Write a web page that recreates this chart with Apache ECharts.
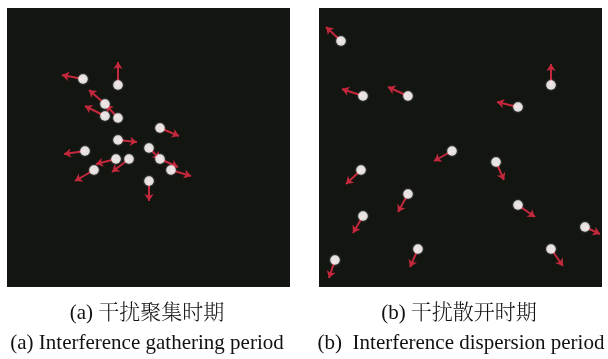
<!DOCTYPE html>
<html>
<head>
<meta charset="utf-8">
<script src="https://cdn.jsdelivr.net/npm/echarts@6/dist/echarts.min.js"></script>
<style>
html,body{margin:0;padding:0;background:#fff;}
#chart{width:608px;height:359px;}
</style>
</head>
<body>
<div id="chart"></div>
<script>
// Panel (a): interference gathering period — point positions and arrow tips (panel units)
const gatherX   = [76, 111, 98, 98, 111, 153, 111, 78, 142, 153, 164, 109, 122, 87, 142];
const gatherY   = [71, 77, 96, 108, 110, 120, 132, 143, 140, 151, 162, 151, 151, 162, 173];
const gatherTipX = [55, 111, 82, 78, 99, 172, 130, 57, 153, 171, 184, 89, 105, 68, 142];
const gatherTipY = [67, 54, 82, 98, 97, 128, 134, 146, 151, 159, 168, 156, 164, 173, 193];

// Panel (b): interference dispersion period
const disperseX   = [22, 232, 44, 89, 199, 133, 177, 42, 89, 199, 44, 266, 99, 232, 16];
const disperseY   = [33, 77, 88, 88, 99, 143, 154, 162, 186, 197, 208, 219, 241, 241, 252];
const disperseTipX = [7, 232, 23, 69, 178, 115, 185, 27, 79, 216, 34, 281, 91, 244, 10];
const disperseTipY = [19, 56, 81, 79, 94, 153, 172, 176, 204, 209, 225, 226, 259, 258, 270];

const captionsCN = ['(a) 干扰聚集时期', '(b) 干扰散开时期'];
const captionsEN = ['(a) Interference gathering period', '(b)  Interference dispersion period'];

const PANEL_W = 283, PANEL_H = 279;
const chart = echarts.init(document.getElementById('chart'), null, {renderer: 'canvas'});

function points(xs, ys) { return xs.map((x, i) => [x, ys[i]]); }
function arrows(xs, ys, tx, ty) { return xs.map((x, i) => ({coords: [[x, ys[i]], [tx[i], ty[i]]]})); }

const panels = [
  {left: 7, x: gatherX, y: gatherY, tx: gatherTipX, ty: gatherTipY},
  {left: 319, x: disperseX, y: disperseY, tx: disperseTipX, ty: disperseTipY}
];

const serif = "'Liberation Serif', 'Noto Serif CJK SC', 'Noto Sans CJK SC', serif";

function caption(text, x, y, size, weight) {
  return {type: 'text', x: x, y: y, style: {text: text, fill: '#111', font: (weight || 'normal') + ' ' + size + 'px ' + serif, textAlign: 'center', textVerticalAlign: 'middle'}};
}

const option = {
  animation: false,
  backgroundColor: '#ffffff',
  grid: panels.map(p => ({left: p.left, top: 8, width: PANEL_W, height: PANEL_H, show: true, backgroundColor: '#131511', borderWidth: 0})),
  xAxis: panels.map((p, i) => ({type: 'value', gridIndex: i, min: 0, max: PANEL_W, show: false})),
  yAxis: panels.map((p, i) => ({type: 'value', gridIndex: i, min: 0, max: PANEL_H, inverse: true, show: false})),
  series: [].concat(...panels.map((p, i) => [
    {
      type: 'lines', coordinateSystem: 'cartesian2d', xAxisIndex: i, yAxisIndex: i, z: 2,
      symbol: ['none', 'arrow'], symbolSize: 7,
      lineStyle: {color: '#c4283c', width: 2, opacity: 1},
      data: arrows(p.x, p.y, p.tx, p.ty)
    },
    {
      type: 'scatter', xAxisIndex: i, yAxisIndex: i, z: 3,
      symbol: 'circle', symbolSize: 9.5,
      itemStyle: {color: '#fbf6f6', shadowBlur: 2, shadowColor: 'rgba(255,255,255,0.7)'},
      data: points(p.x, p.y)
    }
  ])),
  graphic: [
    caption(captionsCN[0], 147, 313, 21, '300'),
    caption(captionsCN[1], 459, 313, 21, '300'),
    caption(captionsEN[0], 147, 343, 21),
    caption(captionsEN[1], 461, 343, 21)
  ]
};
chart.setOption(option);
</script>
</body>
</html>
